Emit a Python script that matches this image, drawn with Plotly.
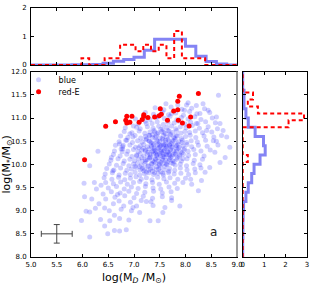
import plotly.graph_objects as go

# ---------------- data ----------------
red_x = [6.04, 6.45, 6.64, 6.86, 6.96, 6.84, 6.86, 6.92, 7.10, 7.16, 7.19, 7.19, 7.27, 7.40,
         7.51, 7.53, 7.49, 7.65, 7.77, 7.85, 7.85, 7.88, 7.86, 7.94, 8.10, 8.07, 8.25]
red_y = [10.10, 10.82, 10.92, 11.04, 11.04, 10.95, 10.89, 10.91, 10.91, 10.97, 11.04, 11.07, 11.01, 11.02,
         11.20, 11.08, 11.05, 10.95, 11.15, 11.18, 11.36, 11.47, 10.95, 10.89, 11.02, 10.83, 11.53]

blue_xy = [
    # sparse outskirts
    (6.30,10.28),(6.14,9.97),(6.03,9.59),(6.04,9.30),(5.98,8.79),(6.07,8.99),(6.14,8.97),(6.23,9.61),
    (6.27,9.47),(6.32,9.15),(6.35,8.81),(6.14,8.43),(6.43,8.67),(6.49,8.50),(6.53,8.78),(6.62,8.57),
    (6.72,8.56),(6.85,8.59),(6.40,9.36),(6.43,9.06),(6.56,10.15),(6.59,9.86),(6.72,10.44),(6.78,10.33),
    (6.86,10.52),(6.98,10.59),(8.47,9.93),(8.38,9.83),(8.31,9.65),(8.25,9.43),(7.89,9.10),(7.73,9.28),
    (7.73,9.22),(7.60,9.07),(7.56,8.96),(7.31,8.78),(7.47,8.78),(7.11,8.96),(6.98,9.07),(6.75,9.03),
    (6.72,8.83),(7.24,9.20),(7.37,9.11),(8.12,9.57),(8.10,9.68),(8.30,9.92),(8.19,9.82),(8.64,11.49),
    (8.34,11.31),(8.44,11.17),(8.60,11.02),(8.67,10.88),(8.73,10.73),(8.80,10.59),(8.86,10.37),(8.77,10.15),
    (8.02,11.28),(7.98,11.17),(7.73,11.10),(7.44,11.02),(7.24,10.88),(7.05,10.80),(6.92,10.66),(6.79,10.41),
    (6.77,10.27),(8.28,11.10),(8.21,10.88),(8.41,10.73),(8.54,10.51),(8.57,10.26),(8.67,10.04),
    (6.18,9.25),(6.25,9.05),(6.36,9.55),(6.45,9.25),(6.52,9.00),(6.60,9.15),(6.68,9.35),(6.62,8.90),
    (6.90,8.80),(6.95,9.00),(7.05,9.10),(6.80,9.10),
    # main cloud, row by row
    (7.62,11.31),(7.85,11.28),(8.05,11.33),(8.21,11.27),
    (7.41,11.22),(7.58,11.18),(7.72,11.24),(7.93,11.19),(8.12,11.21),(8.37,11.20),
    (7.22,11.12),(7.38,11.08),(7.55,11.13),(7.67,11.07),(7.81,11.11),(7.96,11.06),(8.08,11.14),(8.22,11.09),(8.47,11.12),
    (7.03,10.98),(7.19,11.02),(7.31,10.97),(7.46,11.03),(7.59,10.99),(7.70,11.04),(7.83,10.96),(7.92,11.01),
    (8.05,10.98),(8.18,11.03),(8.30,10.97),(8.52,11.00),
    (6.91,10.91),(7.08,10.87),(7.22,10.93),(7.35,10.88),(7.45,10.92),(7.57,10.86),(7.66,10.91),(7.78,10.89),
    (7.87,10.93),(7.99,10.87),(8.10,10.91),(8.24,10.88),(8.39,10.92),(8.58,10.90),
    (6.83,10.79),(6.99,10.83),(7.12,10.77),(7.26,10.81),(7.37,10.78),(7.48,10.82),(7.56,10.76),(7.64,10.80),
    (7.73,10.83),(7.81,10.77),(7.90,10.81),(8.01,10.79),(8.13,10.84),(8.27,10.78),(8.44,10.81),(8.62,10.77),
    (6.81,10.71),(6.96,10.68),(7.10,10.72),(7.21,10.67),(7.31,10.70),(7.39,10.73),(7.47,10.68),(7.54,10.71),
    (7.61,10.66),(7.68,10.72),(7.75,10.69),(7.83,10.73),(7.91,10.67),(7.99,10.71),(8.08,10.69),(8.19,10.72),
    (8.33,10.68),(8.51,10.70),
    (6.74,10.61),(6.88,10.58),(7.02,10.62),(7.13,10.57),(7.22,10.60),(7.29,10.63),(7.36,10.58),(7.43,10.61),
    (7.50,10.57),(7.57,10.62),(7.63,10.59),(7.70,10.63),(7.77,10.58),(7.84,10.61),(7.92,10.56),(8.00,10.60),
    (8.09,10.63),(8.20,10.58),(8.36,10.61),(8.55,10.59),(8.70,10.62),
    (6.71,10.49),(6.84,10.52),(6.97,10.47),(7.07,10.51),(7.16,10.48),(7.23,10.53),(7.30,10.50),(7.37,10.46),
    (7.44,10.52),(7.50,10.49),(7.56,10.53),(7.62,10.47),(7.68,10.51),(7.74,10.48),(7.80,10.53),(7.87,10.49),
    (7.94,10.52),(8.02,10.47),(8.11,10.51),(8.23,10.48),(8.39,10.52),(8.60,10.50),
    (6.64,10.41),(6.78,10.38),(6.92,10.42),(7.03,10.37),(7.12,10.40),(7.19,10.43),(7.26,10.38),(7.33,10.41),
    (7.39,10.36),(7.45,10.42),(7.51,10.39),(7.57,10.43),(7.63,10.37),(7.69,10.41),(7.75,10.38),(7.81,10.42),
    (7.88,10.37),(7.95,10.40),(8.03,10.43),(8.12,10.38),(8.25,10.41),(8.42,10.39),(8.63,10.42),
    (6.62,10.29),(6.75,10.33),(6.88,10.28),(6.99,10.32),(7.08,10.27),(7.15,10.31),(7.22,10.28),(7.29,10.33),
    (7.35,10.27),(7.41,10.30),(7.47,10.34),(7.53,10.28),(7.59,10.31),(7.65,10.27),(7.71,10.32),(7.77,10.29),
    (7.83,10.33),(7.90,10.27),(7.97,10.31),(8.05,10.28),(8.16,10.32),(8.30,10.29),(8.48,10.31),
    (6.60,10.21),(6.73,10.18),(6.86,10.22),(6.96,10.17),(7.05,10.20),(7.12,10.23),(7.19,10.18),(7.26,10.21),
    (7.32,10.17),(7.38,10.22),(7.44,10.19),(7.50,10.23),(7.56,10.17),(7.62,10.20),(7.68,10.22),(7.74,10.18),
    (7.81,10.21),(7.88,10.17),(7.96,10.22),(8.06,10.19),(8.19,10.21),(8.36,10.18),
    (6.55,10.09),(6.69,10.12),(6.81,10.07),(6.92,10.11),(7.01,10.08),(7.09,10.12),(7.16,10.07),(7.23,10.10),
    (7.30,10.13),(7.36,10.08),(7.42,10.11),(7.48,10.07),(7.55,10.12),(7.61,10.09),(7.68,10.13),(7.75,10.08),
    (7.83,10.11),(7.92,10.07),(8.03,10.12),(8.17,10.09),(8.33,10.11),
    (6.52,10.01),(6.66,9.98),(6.79,10.02),(6.90,9.97),(6.99,10.01),(7.07,10.03),(7.14,9.98),(7.21,10.02),
    (7.28,9.97),(7.35,10.01),(7.42,10.03),(7.49,9.98),(7.56,10.02),(7.64,9.99),(7.72,10.03),(7.80,9.98),
    (7.90,10.01),(8.02,9.97),(8.15,10.02),(8.28,9.99),
    (6.47,9.91),(6.61,9.88),(6.74,9.92),(6.86,9.87),(6.95,9.90),(7.04,9.93),(7.12,9.88),(7.20,9.91),
    (7.28,9.87),(7.36,9.92),(7.44,9.89),(7.52,9.93),(7.60,9.88),(7.69,9.91),(7.79,9.87),(7.90,9.92),
    (8.03,9.88),(8.18,9.90),
    (6.44,9.79),(6.58,9.82),(6.71,9.77),(6.83,9.81),(6.93,9.78),(7.02,9.83),(7.11,9.77),(7.20,9.80),
    (7.29,9.82),(7.38,9.78),(7.47,9.81),(7.57,9.77),(7.67,9.82),(7.78,9.79),(7.91,9.81),(8.06,9.78),
    (6.42,9.71),(6.57,9.68),(6.70,9.72),(6.82,9.67),(6.93,9.70),(7.04,9.73),(7.14,9.68),(7.24,9.71),
    (7.35,9.67),(7.46,9.72),(7.58,9.69),(7.70,9.71),(7.85,9.68),(8.00,9.70),
    (6.45,9.61),(6.60,9.58),(6.74,9.62),(6.87,9.57),(6.99,9.61),(7.11,9.63),(7.23,9.58),(7.36,9.61),
    (7.49,9.57),(7.63,9.62),(7.79,9.59),(7.95,9.61),
    (6.50,9.49),(6.66,9.52),(6.81,9.47),(6.95,9.51),(7.08,9.48),(7.22,9.52),(7.37,9.49),(7.52,9.47),
    (7.68,9.51),(7.84,9.48),
    (6.56,9.41),(6.73,9.38),(6.90,9.42),(7.05,9.37),(7.21,9.40),(7.38,9.42),(7.55,9.38),(7.72,9.41),
    (6.63,9.29),(6.82,9.32),(7.00,9.28),(7.18,9.31),(7.36,9.27),(7.55,9.30),
    (6.71,9.21),(6.93,9.18),(7.14,9.22),(7.33,9.19),
    # densest core
    (7.24,10.55),(7.33,10.47),(7.41,10.58),(7.48,10.44),(7.55,10.56),(7.60,10.43),(7.66,10.54),(7.72,10.45),
    (7.79,10.57),(7.85,10.44),(7.18,10.35),(7.27,10.26),(7.34,10.38),(7.42,10.24),(7.49,10.36),(7.54,10.25),
    (7.61,10.34),(7.67,10.26),(7.73,10.37),(7.80,10.24),(7.86,10.35),(7.93,10.25),(7.15,10.14),(7.22,10.06),
    (7.31,10.15),(7.39,10.05),(7.46,10.14),(7.52,10.04),(7.59,10.16),(7.65,10.05),(7.71,10.15),(7.78,10.06),
    (7.84,10.14),(7.11,9.95),(7.19,9.86),(7.27,9.96),(7.36,9.85),(7.44,9.95),(7.52,9.84),(7.60,9.96),
    (7.68,9.85),(7.45,10.66),(7.58,10.68),(7.71,10.65),(7.36,10.64),(7.52,10.31),(7.58,10.21),(7.45,10.21),
    (7.64,10.39),(7.39,10.33),(7.70,10.20),(7.57,10.40),
    (7.29,10.51),(7.38,10.43),(7.46,10.50),(7.53,10.41),(7.61,10.52),(7.69,10.42),(7.76,10.51),(7.83,10.40),
    (7.22,10.31),(7.31,10.22),(7.37,10.29),(7.44,10.27),(7.51,10.19),(7.57,10.29),(7.63,10.22),(7.70,10.30),
    (7.76,10.21),(7.82,10.29),(7.89,10.20),(7.26,10.10),(7.34,10.02),(7.41,10.12),(7.49,10.01),(7.56,10.09),
    (7.63,10.01),(7.69,10.10),(7.76,10.02),(7.16,9.91),(7.24,9.83),(7.32,9.90),(7.40,9.82),(7.48,9.90),
    (7.56,9.81),(7.05,10.18),(7.09,10.36),(7.93,10.47),(7.98,10.34),(7.02,9.96),(7.95,10.12),(7.40,10.70),
    (7.66,10.73),(7.52,10.76),(7.30,10.62),(7.82,10.62),
]
blue_x = [p[0] for p in blue_xy]
blue_y = [p[1] for p in blue_xy]

# histogram of M_D (top panel): bin edges and normalised heights
blue_top_edges = [5.0, 5.8, 6.0, 6.2, 6.4, 6.6, 6.8, 7.0, 7.2, 7.4, 7.6, 7.8, 8.0, 8.2, 8.4, 8.6, 8.8, 9.0]
blue_top_vals = [0, 0.01, 0.01, 0.02, 0.06, 0.13, 0.19, 0.27, 0.52, 0.9, 0.9, 0.9, 0.66, 0.31, 0.12, 0.04, 0]
red_top_edges = [5.0, 5.98, 6.13, 6.28, 6.43, 6.58, 6.73, 6.88, 7.03, 7.18, 7.33, 7.48, 7.63, 7.78, 7.93,
                 8.08, 8.23, 8.38, 9.0]
red_top_vals = [0, 0.24, 0, 0, 0.24, 0.24, 0.71, 0.71, 0.48, 0.71, 0.48, 0.71, 0.24, 1.19, 0.24, 0.24, 0.24, 0]

# histogram of M_* (right panel)
blue_right_edges = [8.0, 8.2, 8.4, 8.6, 8.8, 9.0, 9.2, 9.4, 9.6, 9.8, 10.0, 10.2, 10.4, 10.6, 10.8, 11.0,
                    11.2, 11.4, 11.6, 11.8, 12.0]
blue_right_vals = [0, 0, 0.01, 0.01, 0.02, 0.04, 0.15, 0.26, 0.42, 0.53, 0.81, 1.05, 0.97, 0.58, 0.26, 0.15,
                   0.06, 0.06, 0, 0]
red_right_edges = [8.0, 10.05, 10.2, 10.35, 10.5, 10.65, 10.8, 10.95, 11.1, 11.25, 11.4, 11.55, 12.0]
red_right_vals = [0, 0.24, 0, 0, 0, 0, 2.14, 2.86, 0.71, 0.24, 0.48, 0]

# typical error bar
err_x = [5.5]
err_y = [8.5]
err_dx = [0.3]
err_dy = [0.2]

x_ticks_main = [5.0, 5.5, 6.0, 6.5, 7.0, 7.5, 8.0, 8.5, 9.0]
y_ticks_main = [8.0, 8.5, 9.0, 9.5, 10.0, 10.5, 11.0, 11.5, 12.0]

# ---------------- figure ----------------
FONT = "DejaVu Sans"
BLUE_LINE = "rgba(80,80,240,0.7)"
fig = go.Figure()

fig.add_trace(go.Scatter(x=blue_x, y=blue_y, mode="markers", name="blue", legend="legend",
                         marker=dict(color="rgb(30,30,255)", size=5, opacity=0.22, line=dict(width=0)),
                         xaxis="x", yaxis="y"))
fig.add_trace(go.Scatter(x=red_x, y=red_y, mode="markers", name="red-E", legend="legend2",
                         marker=dict(color="red", size=5, line=dict(width=0)),
                         xaxis="x", yaxis="y"))
fig.add_trace(go.Scatter(x=err_x, y=err_y, mode="markers", showlegend=False,
                         marker=dict(size=1, color="rgba(0,0,0,0)"),
                         error_x=dict(type="data", array=err_dx, color="#444", thickness=1, width=3),
                         error_y=dict(type="data", array=err_dy, color="#444", thickness=1, width=3),
                         xaxis="x", yaxis="y"))

# top histogram
fig.add_trace(go.Scatter(x=blue_top_edges, y=blue_top_vals + [0], mode="lines", line_shape="hv",
                         line=dict(color=BLUE_LINE, width=3), showlegend=False, xaxis="x2", yaxis="y2"))
fig.add_trace(go.Scatter(x=red_top_edges, y=red_top_vals + [0], mode="lines", line_shape="hv",
                         line=dict(color="red", width=2, dash="4px,3px"), showlegend=False,
                         xaxis="x2", yaxis="y2"))
# right histogram
fig.add_trace(go.Scatter(x=blue_right_vals + [0], y=blue_right_edges, mode="lines", line_shape="vh",
                         line=dict(color=BLUE_LINE, width=3), showlegend=False, xaxis="x3", yaxis="y3"))
fig.add_trace(go.Scatter(x=red_right_vals + [0], y=red_right_edges, mode="lines", line_shape="vh",
                         line=dict(color="red", width=2, dash="4px,3px"), showlegend=False,
                         xaxis="x3", yaxis="y3"))

tickfont = dict(family=FONT, size=7, color="black")
common = dict(showline=True, linecolor="black", linewidth=1, mirror="ticks", ticks="inside",
              ticklen=3, tickcolor="black", tickwidth=0.8, showgrid=False, zeroline=False,
              tickfont=tickfont, automargin=False)

mx0, mx1 = 0.0, 0.7464
rx0, rx1 = 0.767, 1.0
my0, my1 = 0.0, 0.7442
ty0, ty1 = 0.771, 1.0
leg_common = dict(xanchor="left", yanchor="top", bgcolor="rgba(0,0,0,0)",
                  font=dict(family=FONT, size=8), borderwidth=0)

fig.update_layout(
    width=316, height=285,
    margin=dict(l=31, r=9, t=8, b=28, pad=0),
    paper_bgcolor="white", plot_bgcolor="white",
    font=dict(family=FONT, color="black"),
    xaxis=dict(domain=[mx0, mx1], range=[5, 9], tickvals=x_ticks_main, tickformat=".1f",
               anchor="y", ticklabelstandoff=1,
               title=dict(text="log(M<sub><i>D</i></sub> /M<sub>⊙</sub>)",
                          font=dict(family=FONT, size=11), standoff=4), **common),
    yaxis=dict(domain=[my0, my1], range=[8, 12], tickvals=y_ticks_main, tickformat=".1f",
               anchor="x", ticklabelstandoff=2,
               title=dict(text="log(M<sub>*</sub>/M<sub>⊙</sub>)",
                          font=dict(family=FONT, size=11), standoff=2), **common),
    xaxis2=dict(domain=[mx0, mx1], range=[5, 9], tickvals=x_ticks_main, showticklabels=False,
                anchor="y2", **common),
    yaxis2=dict(domain=[ty0, ty1], range=[0, 2], tickvals=[0, 1, 2], anchor="x2",
                ticklabelstandoff=2, **common),
    xaxis3=dict(domain=[rx0, rx1], range=[0, 3], tickvals=[0, 1, 2, 3], anchor="y3",
                ticklabelstandoff=1, **common),
    yaxis3=dict(domain=[my0, my1], range=[8, 12], tickvals=y_ticks_main, showticklabels=False,
                anchor="x3", **common),
    legend=dict(x=-0.045, y=my1 + 0.026, **leg_common),
    legend2=dict(x=-0.045, y=my1 - 0.022, **leg_common),
    annotations=[dict(text="a", x=8.55, y=8.53, xref="x", yref="y", showarrow=False,
                      font=dict(family=FONT, size=12, color="#222"))],
    shapes=[dict(type="line", xref="x domain", yref="y domain", x0=1, x1=1, y0=0, y1=1,
                 line=dict(color="#999", width=2))],
)

fig.write_html("out.html", config={"displayModeBar": False},
               post_script="document.body.style.margin='0';")
